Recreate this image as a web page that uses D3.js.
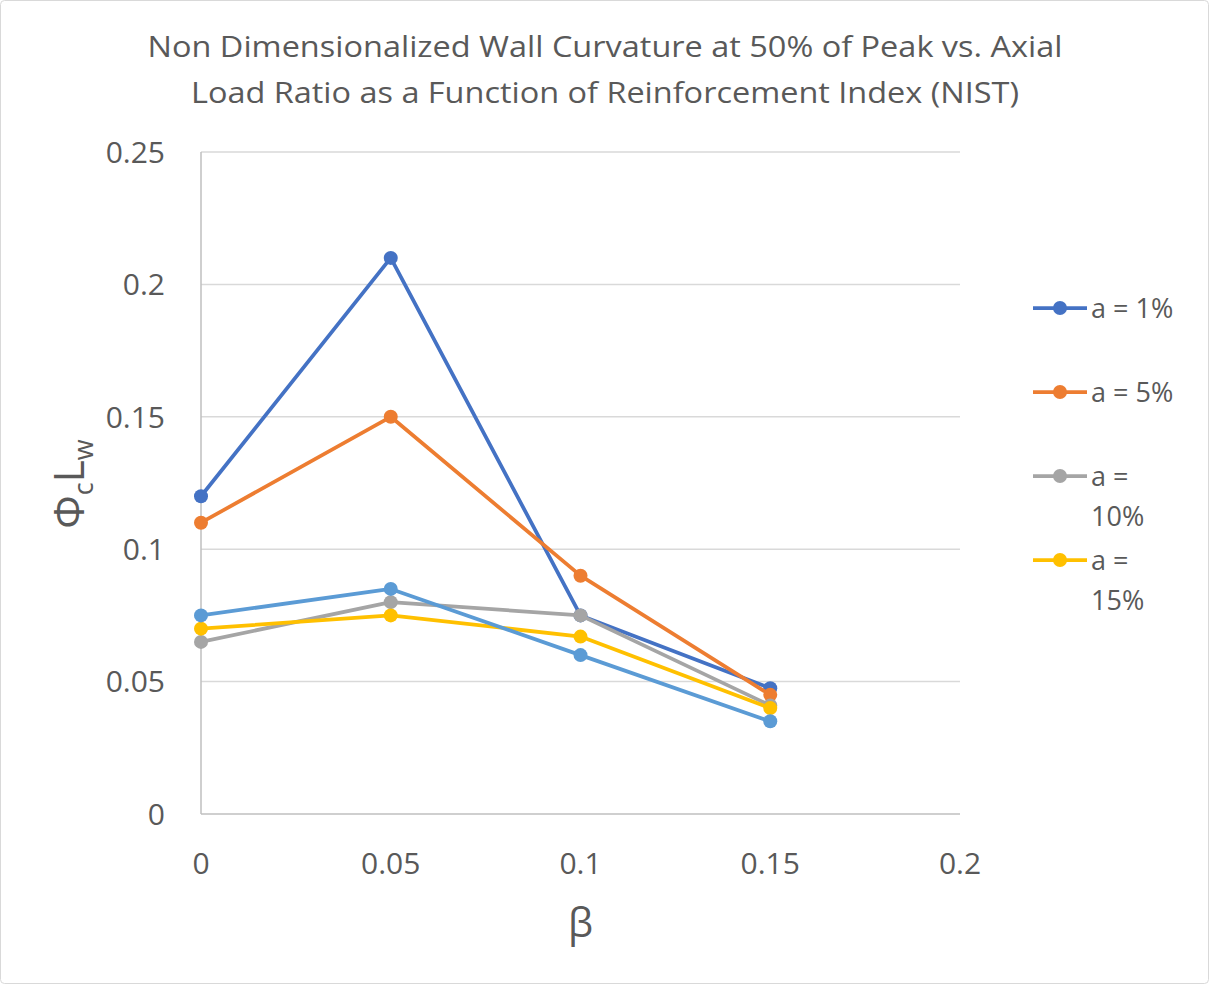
<!DOCTYPE html>
<html>
<head>
<meta charset="utf-8">
<script src="https://cdn.jsdelivr.net/npm/d3@7"></script>
<style>
  html, body { margin: 0; padding: 0; background: #fff; }
  svg { display: block; }
  text { font-family: "Open Sans", "Noto Sans", sans-serif; fill: #595959; }
</style>
</head>
<body>
<div id="chart"></div>
<script>
// β values along the x axis
const betaValues = [0, 0.05, 0.1, 0.15];

// φc·Lw for each reinforcement index series
const seriesA1  = [0.12, 0.21, 0.075, 0.0475];
const seriesA5  = [0.11, 0.15, 0.09, 0.045];
const seriesA10 = [0.065, 0.08, 0.075, 0.041];
const seriesA15 = [0.07, 0.075, 0.067, 0.04];
const seriesExtra = [0.075, 0.085, 0.06, 0.035];

const legendLabels = [["a = 1%"], ["a = 5%"], ["a =", "10%"], ["a =", "15%"]];
const xTicks = [0, 0.05, 0.1, 0.15, 0.2];
const yTicks = [0, 0.05, 0.1, 0.15, 0.2, 0.25];

const titleLines = [
  "Non Dimensionalized Wall Curvature at 50% of Peak vs. Axial",
  "Load Ratio as a Function of Reinforcement Index (NIST)"
];

const palette = ["#4472C4", "#ED7D31", "#A5A5A5", "#FFC000", "#5B9BD5"];
const allSeries = [seriesA1, seriesA5, seriesA10, seriesA15, seriesExtra];

const W = 1209, H = 984;
const svg = d3.select("#chart").append("svg").attr("width", W).attr("height", H);

// outer chart frame
svg.append("rect")
  .attr("x", 0.5).attr("y", 0.5).attr("width", W - 1).attr("height", H - 1)
  .attr("rx", 4).attr("fill", "#fff").attr("stroke", "#D9D9D9");

const x = d3.scaleLinear().domain([0, 0.2]).range([201, 960]);
const y = d3.scaleLinear().domain([0, 0.25]).range([814, 152]);

// horizontal gridlines
svg.append("g").selectAll("line").data(yTicks.filter(t => t > 0)).join("line")
  .attr("x1", x(0)).attr("x2", x(0.2))
  .attr("y1", d => y(d)).attr("y2", d => y(d))
  .attr("stroke", "#D9D9D9").attr("stroke-width", 1.5);

// axis lines
svg.append("line").attr("x1", x(0)).attr("x2", x(0)).attr("y1", y(0)).attr("y2", y(0.25))
  .attr("stroke", "#BFBFBF").attr("stroke-width", 1.5);
svg.append("line").attr("x1", x(0)).attr("x2", x(0.2)).attr("y1", y(0)).attr("y2", y(0))
  .attr("stroke", "#BFBFBF").attr("stroke-width", 1.5);

// y tick labels
svg.append("g").selectAll("text").data(yTicks).join("text")
  .attr("x", 165).attr("y", d => y(d))
  .attr("dy", "0.36em").attr("text-anchor", "end")
  .attr("font-size", 30)
  .text(d => d3.format("")(d));

// x tick labels
svg.append("g").selectAll("text").data(xTicks).join("text")
  .attr("x", d => x(d)).attr("y", 874)
  .attr("text-anchor", "middle")
  .attr("font-size", 30)
  .text(d => d3.format("")(d));

// axis titles
svg.append("text").attr("x", x(0.1)).attr("y", 937)
  .attr("text-anchor", "middle").attr("font-size", 40).text("β");

const yTitle = svg.append("text")
  .attr("transform", "translate(84,484) rotate(-90)")
  .attr("text-anchor", "middle").attr("font-size", 42);
yTitle.append("tspan").text("Φ");
yTitle.append("tspan").attr("font-size", 27).attr("dy", 9).text("c");
yTitle.append("tspan").attr("dy", -9).text("L");
yTitle.append("tspan").attr("font-size", 27).attr("dy", 9).text("w");

// chart title
const titleWidths = [915, 828];
svg.append("g").selectAll("text").data(titleLines).join("text")
  .attr("x", 605).attr("y", (d, i) => 57 + i * 46)
  .attr("text-anchor", "middle").attr("font-size", 29)
  .attr("textLength", (d, i) => titleWidths[i])
  .attr("lengthAdjust", "spacingAndGlyphs")
  .text(d => d);

// series lines and markers
const line = d3.line().x((d, i) => x(betaValues[i])).y(d => y(d));
allSeries.forEach((vals, si) => {
  const g = svg.append("g");
  g.append("path").datum(vals)
    .attr("d", line).attr("fill", "none")
    .attr("stroke", palette[si]).attr("stroke-width", 3.75)
    .attr("stroke-linejoin", "round");
  g.selectAll("circle").data(vals).join("circle")
    .attr("cx", (d, i) => x(betaValues[i])).attr("cy", d => y(d))
    .attr("r", 7).attr("fill", palette[si]);
});

// legend
const legendY = [308, 392, 476, 560];
legendLabels.forEach((lines, i) => {
  const g = svg.append("g").attr("transform", `translate(0,${legendY[i]})`);
  g.append("line").attr("x1", 1033).attr("x2", 1087).attr("y1", 0).attr("y2", 0)
    .attr("stroke", palette[i]).attr("stroke-width", 3.75);
  g.append("circle").attr("cx", 1060).attr("cy", 0).attr("r", 7).attr("fill", palette[i]);
  lines.forEach((t, j) => {
    g.append("text").attr("x", 1091).attr("y", 10 + j * 40)
      .attr("font-size", 27).text(t);
  });
});
</script>
</body>
</html>
